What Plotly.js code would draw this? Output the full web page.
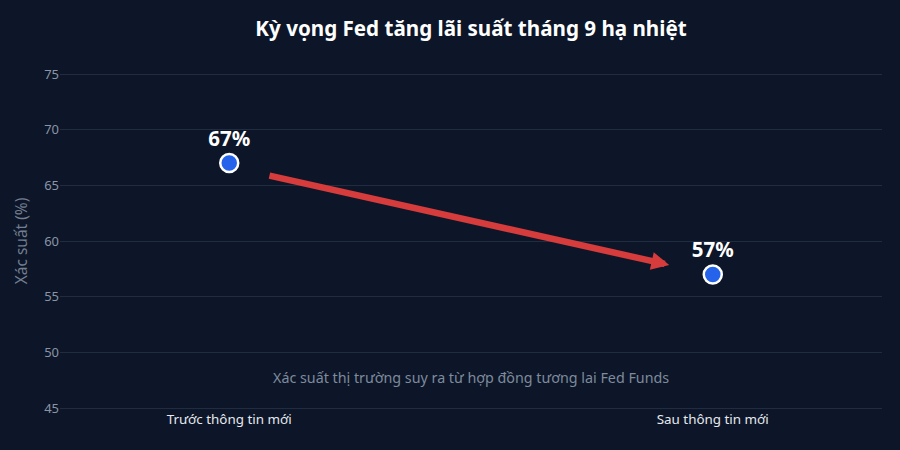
<!DOCTYPE html>
<html>
<head>
<meta charset="utf-8">
<script src="https://cdn.plot.ly/plotly-3.0.1.min.js"></script>
<style>
  html, body { margin: 0; padding: 0; background: #0c1628; }
  #chart { width: 900px; height: 450px; }
</style>
</head>
<body>
<div id="chart"></div>
<script>
const categories = ['Trước thông tin mới', 'Sau thông tin mới'];
const values = [67, 57];
const pointLabels = ['67%', '57%'];
const yTicks = [45, 50, 55, 60, 65, 70, 75];
const note = 'Xác suất thị trường suy ra từ hợp đồng tương lai Fed Funds';

const font = 'Noto Sans, Open Sans, sans-serif';

const points = {
    x: [0, 1],
    y: values,
    text: pointLabels,
    type: 'scatter',
    mode: 'markers+text',
    textposition: 'top center',
    textfont: { family: font, size: 20.5, color: '#ffffff', weight: 'bold' },
    marker: { size: 18, color: '#2563eb', line: { color: '#ffffff', width: 2.5 } },
    hoverinfo: 'skip',
    cliponaxis: false
};

// arrow runs from just right of the first point to just left of the second
const arrowStart = { x: 0 + 0.08, y: values[0] - 1.1 };
const arrowEnd = { x: 1 - 0.09, y: values[1] + 0.85 };

const layout = {
    width: 900,
    height: 450,
    paper_bgcolor: '#0c1628',
    plot_bgcolor: '#0c1628',
    margin: { l: 60, r: 18, t: 72, b: 40 },
    showlegend: false,
    title: {
        text: '<b>Kỳ vọng Fed tăng lãi suất tháng 9 hạ nhiệt</b>',
        x: 0.5,
        xref: 'paper',
        y: 0.935,
        yanchor: 'middle',
        font: { family: font, size: 20.6, color: '#ffffff' }
    },
    xaxis: {
        range: [-0.35, 1.35],
        tickmode: 'array',
        tickvals: [0, 1],
        ticktext: categories,
        showgrid: false,
        zeroline: false,
        showline: false,
        ticks: '',
        tickfont: { family: font, size: 13.4, color: '#e6e9ee' }
    },
    yaxis: {
        range: [44.82, 75.18],
        tickmode: 'array',
        tickvals: yTicks,
        gridcolor: '#202c40',
        gridwidth: 1,
        zeroline: false,
        showline: false,
        ticks: '',
        ticklen: 6,
        tickfont: { family: font, size: 13, color: '#8a94a6' },
        title: { text: 'Xác suất (%)', font: { family: font, size: 15.5, color: '#737e90' }, standoff: 12 }
    },
    annotations: [
        {
            x: arrowEnd.x, y: arrowEnd.y,
            ax: arrowStart.x, ay: arrowStart.y,
            xref: 'x', yref: 'y', axref: 'x', ayref: 'y',
            text: '',
            showarrow: true,
            arrowhead: 2,
            arrowsize: 0.55,
            arrowwidth: 6.5,
            arrowcolor: '#d63c3c'
        },
        {
            x: 0.5, y: 47.7,
            xref: 'x', yref: 'y',
            text: note,
            showarrow: false,
            font: { family: font, size: 14.3, color: '#7f8a9c' }
        }
    ]
};

Plotly.newPlot('chart', [points], layout, { displayModeBar: false, staticPlot: true });
</script>
</body>
</html>
